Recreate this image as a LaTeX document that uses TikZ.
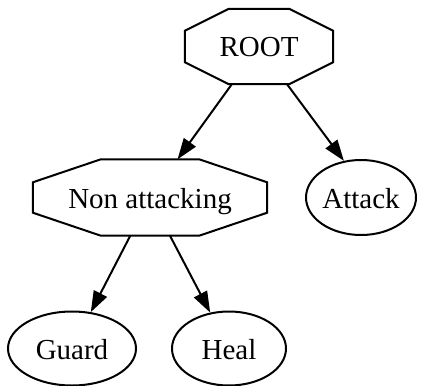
\documentclass[tikz,border=0pt]{standalone}
\usepackage{fontspec}
\setmainfont{Liberation Serif}
\usetikzlibrary{shapes.geometric,arrows.meta}

\tikzset{
  base/.style={draw=none, inner sep=0pt, text height=21pt, text depth=0pt,
    font=\fontsize{29}{34}\selectfont},
  octbox/.style={base, rectangle},
  ovalnode/.style={base, ellipse, draw=black, line width=2pt},
  edge/.style={line width=2pt, -{Triangle[length=21pt, width=14.5pt]}},
  outline/.style={line width=2pt, line join=miter},
}

% octagon drawn on the border box of a named node:
% #1 node, #2 horizontal corner inset, #3 vertical corner inset
\newcommand\octoutline[3]{%
  \draw[outline]
    ([xshift=#2]#1.north west) -- ([xshift=-#2]#1.north east)
    -- ([yshift=-#3]#1.north east) -- ([yshift=#3]#1.south east)
    -- ([xshift=-#2]#1.south east) -- ([xshift=#2]#1.south west)
    -- ([yshift=#3]#1.south west) -- ([yshift=-#3]#1.north west) -- cycle;}

\begin{document}
\begin{tikzpicture}[x=1pt, y=-1pt]
  \useasboundingbox (0,0) rectangle (430,385);

  \node[octbox, minimum width=148pt, minimum height=75pt] (root) at (259,46.5) {ROOT};
  \node[octbox, minimum width=234pt, minimum height=76pt] (non) at (150,197.5) {Non attacking};
  \node[ovalnode, minimum width=110pt, minimum height=75pt] (attack) at (361,197.5) {Attack};
  \node[ovalnode, minimum width=128pt, minimum height=74pt] (guard) at (72,348.5) {Guard};
  \node[ovalnode, minimum width=114pt, minimum height=74pt] (heal) at (229,348.5) {Heal};

  \octoutline{root}{44pt}{22pt}
  \octoutline{non}{68pt}{23pt}

  \draw[edge] (root) -- (non);
  \draw[edge] ([xshift=28pt]root.south) -- (attack.115);
  \draw[edge] (non) -- (guard);
  \draw[edge] (non) -- (heal);
\end{tikzpicture}
\end{document}
